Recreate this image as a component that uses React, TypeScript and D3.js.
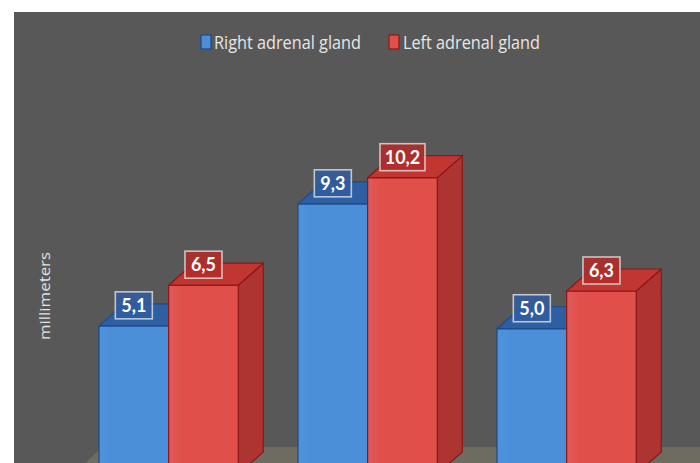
import React from "react";
import * as d3 from "d3";

const categories = ["Group 1", "Group 2", "Group 3"];
const seriesNames = ["Right adrenal gland", "Left adrenal gland"];
const rightValues = [5.1, 9.3, 5.0];
const leftValues = [6.5, 10.2, 6.3];
const valueLabels = [["5,1", "9,3", "5,0"], ["6,5", "10,2", "6,3"]];

const W = 700;
const H = 463;
const DX = 25;
const DY = 22;

const palettes = [
  { front: "#4b8fd8", frontL: "#4f93dc", top: "#2e5fa3", side: "#2a5896", edge: "#1d4a86", label: "rgba(48,92,160,0.85)" },
  { front: "#e04f49", frontL: "#e05a5c", top: "#c23631", side: "#ad3431", edge: "#8a1818", label: "rgba(176,44,42,0.88)" },
];

export default function App() {
  const x = d3.scaleBand<string>().domain(categories).range([69.15, 666.15]).paddingInner(0.3).paddingOuter(0.15);
  const xs = d3.scaleBand<number>().domain([0, 1]).range([0, x.bandwidth()]).padding(0);
  const y = d3.scaleLinear().domain([0, 12]).range([474, 474 - 12 * 29.05]);
  const series = [rightValues, leftValues];
  const base = y(0);

  const bars: JSX.Element[] = [];
  const labels: JSX.Element[] = [];
  categories.forEach((c, ci) => {
    series.forEach((vals, si) => {
      const p = palettes[si];
      const x0 = (x(c) as number) + (xs(si) as number);
      const x1 = x0 + xs.bandwidth();
      const yt = y(vals[ci]);
      const top = `M${x0},${yt} L${x0 + DX},${yt - DY} L${x1 + DX},${yt - DY} L${x1},${yt} Z`;
      const side = `M${x1},${yt} L${x1 + DX},${yt - DY} L${x1 + DX},${base - DY} L${x1},${base} Z`;
      bars.push(
        <g key={`b${ci}-${si}`}>
          <path d={side} fill={p.side} stroke={p.edge} strokeWidth={1.2} />
          <rect x={x0} y={yt} width={x1 - x0} height={base - yt} fill={`url(#grad${si})`} stroke={p.edge} strokeWidth={1.2} />
          <path d={top} fill={p.top} stroke={p.edge} strokeWidth={1.2} />
        </g>
      );
      const txt = valueLabels[si][ci];
      const bw = txt.length >= 4 ? 45 : 37;
      const bh = 27;
      const cx = (x0 + x1) / 2;
      const by = yt - 7 - bh;
      labels.push(
        <g key={`l${ci}-${si}`}>
          <rect x={cx - bw / 2} y={by} width={bw} height={bh} fill={p.label} stroke="rgba(235,235,235,0.75)" strokeWidth={1.6} />
          <text x={cx} y={by + bh / 2 + 6.5} textAnchor="middle" fill="#ffffff" fontFamily="Lato, 'Open Sans', sans-serif" fontWeight={700} fontSize={18}>
            {txt}
          </text>
        </g>
      );
    });
  });

  const floorBackY = 447;
  const floorFrontX = 74;
  const floorDX = 28;
  const floor = `M${floorFrontX},${base} L${floorFrontX + floorDX},${floorBackY} L${W + 40},${floorBackY} L${W + 40},${base} Z`;

  return (
    <div style={{ position: "fixed", left: 0, top: 0, width: W, height: H, background: "#fff" }}>
      <svg width={W} height={H} style={{ display: "block" }}>
        <defs>
          {palettes.map((p, i) => (
            <linearGradient key={i} id={`grad${i}`} x1="0" x2="1" y1="0" y2="0">
              <stop offset="0" stopColor={p.frontL} />
              <stop offset="0.2" stopColor={p.front} />
              <stop offset="1" stopColor={p.front} />
            </linearGradient>
          ))}
          <clipPath id="plot">
            <rect x={14} y={12} width={W - 14} height={H - 12} />
          </clipPath>
        </defs>
        <rect x={14} y={12} width={W - 14} height={H - 12} fill="#585858" />
        <g clipPath="url(#plot)">
          <path d={floor} fill="#6e6b61" />
          {bars}
          {labels}
        </g>
        <text transform={`translate(50,296) rotate(-90)`} textAnchor="middle" fill="#e2e2e2" fontFamily="'Open Sans', sans-serif" fontSize={15} textLength={88} lengthAdjust="spacingAndGlyphs">
          millimeters
        </text>
        <g>
          <rect x={201} y={35} width={10} height={14} fill="#4b8fd8" stroke="#1d4a86" strokeWidth={1.2} />
          <text x={214} y={49} fill="#e6e6e6" fontFamily="'Open Sans', sans-serif" fontSize={18} textLength={147} lengthAdjust="spacingAndGlyphs">
            {seriesNames[0]}
          </text>
          <rect x={389} y={35} width={10} height={14} fill="#e04f49" stroke="#8a1818" strokeWidth={1.2} />
          <text x={403} y={49} fill="#e6e6e6" fontFamily="'Open Sans', sans-serif" fontSize={18} textLength={137} lengthAdjust="spacingAndGlyphs">
            {seriesNames[1]}
          </text>
        </g>
      </svg>
    </div>
  );
}
